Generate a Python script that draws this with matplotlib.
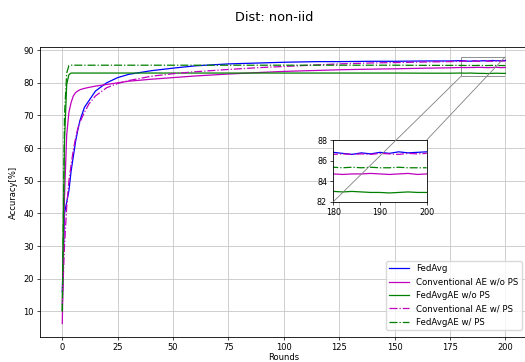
import numpy as np
import matplotlib.pyplot as plt
from mpl_toolkits.axes_grid1.inset_locator import mark_inset

rounds = [0, 1, 2, 3, 4, 5, 6, 7, 8, 10, 12, 15, 20, 25, 30, 40, 50, 60, 75, 90,
          100, 115, 125, 140, 150, 165, 175, 180, 182, 184, 186, 188, 190, 192,
          194, 196, 198, 200]

fedavg = [16.0, 40.0, 43.5, 47.0, 53.0, 57.5, 62.0, 65.5, 68.5, 72.5, 74.5, 77.5,
          80.0, 81.6, 82.6, 83.7, 84.5, 85.2, 85.8, 86.1, 86.3, 86.5, 86.5, 86.6,
          86.6, 86.7, 86.7, 86.8, 86.7, 86.6, 86.75, 86.65, 86.8, 86.7, 86.85,
          86.75, 86.8, 86.85]
conv_ae = [6.3, 45.0, 64.0, 71.0, 74.0, 76.0, 77.0, 77.5, 77.9, 78.3, 78.6, 79.0,
           79.5, 80.0, 80.5, 81.1, 81.6, 82.1, 82.7, 83.2, 83.5, 83.8, 84.0, 84.2,
           84.3, 84.5, 84.6, 84.7, 84.65, 84.7, 84.7, 84.75, 84.7, 84.65, 84.7,
           84.75, 84.65, 84.7]
fedavgae = [10.3, 62.0, 79.5, 82.5, 83.0, 83.0, 83.0, 83.0, 83.0, 83.0, 83.0, 83.0,
            83.0, 83.0, 83.0, 83.0, 83.0, 83.0, 83.0, 83.0, 83.0, 83.0, 83.0, 83.0,
            83.0, 82.95, 82.95, 83.0, 82.95, 83.0, 82.95, 82.9, 82.9, 82.85, 82.9,
            82.95, 82.9, 82.9]
conv_ae_ps = [12.0, 30.0, 42.0, 50.0, 55.0, 59.5, 63.0, 66.0, 68.0, 71.0, 73.5, 76.0,
              78.5, 79.8, 80.7, 82.0, 82.8, 83.4, 84.1, 84.7, 85.0, 85.5, 85.8, 86.1,
              86.2, 86.4, 86.5, 86.6, 86.65, 86.6, 86.65, 86.6, 86.7, 86.65, 86.6,
              86.7, 86.65, 86.7]
fedavgae_ps = [10.0, 70.0, 83.0, 85.3, 85.4, 85.4, 85.4, 85.4, 85.4, 85.4, 85.4, 85.4,
               85.4, 85.4, 85.4, 85.4, 85.4, 85.4, 85.4, 85.4, 85.4, 85.4, 85.4, 85.4,
               85.4, 85.35, 85.35, 85.35, 85.3, 85.35, 85.3, 85.35, 85.3, 85.3, 85.35,
               85.3, 85.3, 85.3]

series = [
    ("FedAvg", fedavg, "b", "-"),
    ("Conventional AE w/o PS", conv_ae, "m", "-"),
    ("FedAvgAE w/o PS", fedavgae, "g", "-"),
    ("Conventional AE w/ PS", conv_ae_ps, "m", "-."),
    ("FedAvgAE w/ PS", fedavgae_ps, "g", "-."),
]

fs = 6.0
fig = plt.figure(figsize=(5.25, 3.62), dpi=100)
ax = fig.add_axes([0.0764, 0.0699, 0.9284, 0.7994])
for name, vals, c, ls in series:
    ax.plot(rounds, vals, color=c, linestyle=ls, linewidth=0.9, label=name)
ax.set_xticks([0, 25, 50, 75, 100, 125, 150, 175, 200])
ax.set_yticks([10, 20, 30, 40, 50, 60, 70, 80, 90])
ax.grid(True, color="#c8c8c8", linewidth=0.6)
ax.tick_params(labelsize=fs, length=2.5, width=0.5, pad=2)
for s in ax.spines.values():
    s.set_linewidth(0.6)
ax.set_xlabel("Rounds", fontsize=fs, labelpad=0.5)
ax.set_ylabel("Accuracy[%]", fontsize=fs, labelpad=4)

fig.text(0.5215, 0.943, "Dist: non-iid", ha="center", va="baseline", fontsize=9.3)

fig.legend(loc="lower right", bbox_to_anchor=(521.7 / 525, 32 / 362),
           bbox_transform=fig.transFigure, borderaxespad=0, fontsize=6.2,
           handlelength=2.3, framealpha=0.8, edgecolor="#d0d0d0")

# zoomed inset of the last 20 rounds
axins = ax.inset_axes([0.6016, 0.4665, 0.1916, 0.2132])
for name, vals, c, ls in series:
    axins.plot(rounds, vals, color=c, linestyle=ls, linewidth=0.9)
axins.set_xlim(180, 200)
axins.set_ylim(82, 88)
axins.set_xticks([180, 190, 200])
axins.set_yticks([82, 84, 86, 88])
axins.tick_params(labelsize=5.8, length=2.5, width=0.5, pad=2)
for s in axins.spines.values():
    s.set_linewidth(0.6)
pp, p1, p2 = mark_inset(ax, axins, loc1=1, loc2=3, fc="none", ec="0.5", lw=0.6)
p1.set_zorder(10)
p2.set_zorder(10)

fig.savefig("out.png", dpi=100)
